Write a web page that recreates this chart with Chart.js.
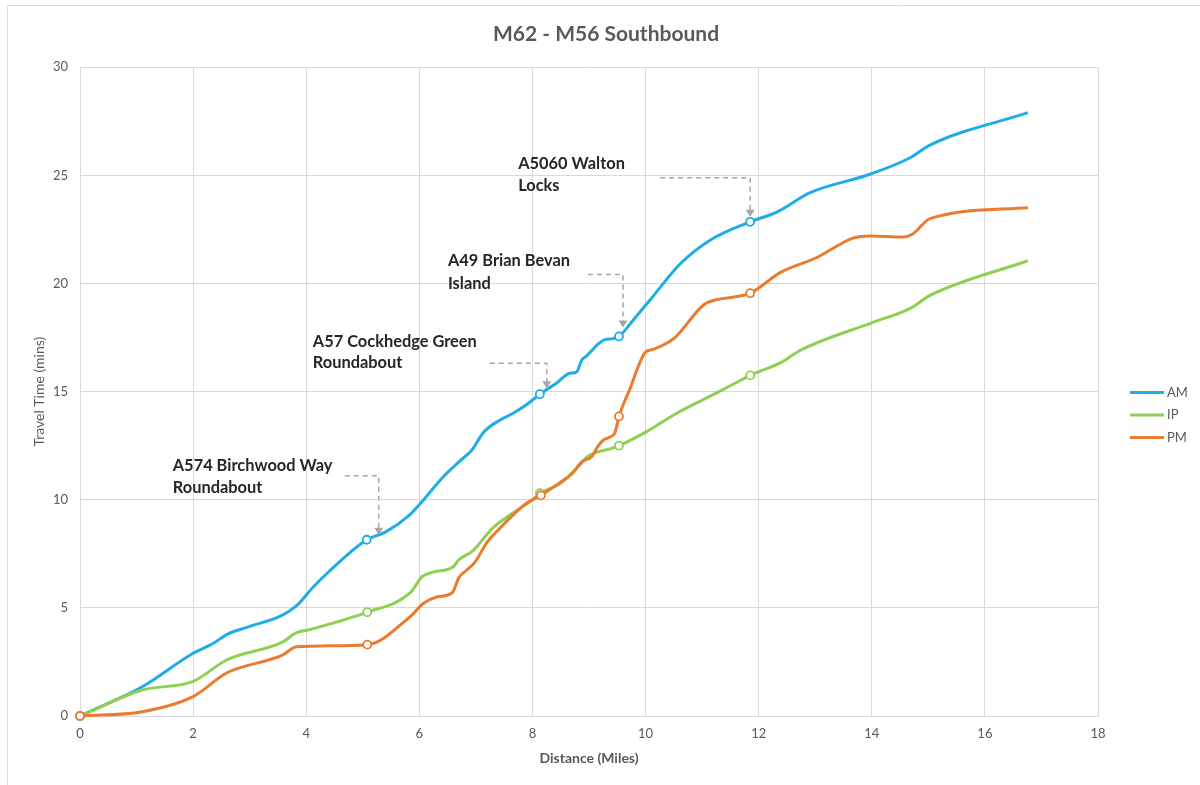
<!DOCTYPE html>
<html>
<head>
<meta charset="utf-8">
<title>M62 - M56 Southbound</title>
<script src="https://cdn.jsdelivr.net/npm/chart.js@4.4.1/dist/chart.umd.min.js"></script>
<style>
  html, body { margin: 0; padding: 0; background: #ffffff; }
  #wrap { width: 1200px; height: 785px; position: relative; }
  canvas { display: block; }
</style>
</head>
<body>
<div id="wrap"><canvas id="chart" width="1200" height="785"></canvas></div>
<script>
// ---- Journey data: cumulative travel time (mins) against distance (miles) ----
const seriesNames = ['AM', 'IP', 'PM'];

const amDist = [0, 1.1, 2.0, 2.35, 2.62, 2.95, 3.57, 3.83, 4.12, 4.37, 5.07, 5.4, 5.83, 6.01, 6.42, 6.72, 6.93, 7.13, 7.37, 7.66, 7.9, 8.13, 8.43, 8.66, 8.78, 8.87, 8.96, 9.05, 9.14, 9.28, 9.43, 9.53, 9.78, 10.13, 10.61, 11.14, 11.85, 12.32, 12.91, 13.97, 14.67, 15.03, 16.76];
const amTime = [0, 1.35, 2.9, 3.35, 3.8, 4.1, 4.65, 5.1, 5.95, 6.6, 8.15, 8.5, 9.3, 9.8, 11.05, 11.8, 12.3, 13.1, 13.6, 14.0, 14.4, 14.88, 15.4, 15.85, 15.9, 16.45, 16.65, 16.9, 17.15, 17.4, 17.45, 17.55, 18.3, 19.4, 20.9, 22.0, 22.85, 23.3, 24.2, 25.05, 25.8, 26.4, 27.9];

const ipDist = [0, 1.1, 2.0, 2.6, 3.57, 3.83, 4.07, 5.08, 5.84, 6.05, 6.24, 6.6, 6.69, 6.95, 7.3, 7.66, 8.0, 8.13, 8.49, 8.87, 8.96, 9.43, 9.53, 10.02, 10.55, 10.96, 11.67, 11.85, 12.4, 12.73, 14.02, 14.68, 15.03, 16.76];
const ipTime = [0, 1.2, 1.6, 2.6, 3.4, 3.85, 4.0, 4.8, 5.7, 6.45, 6.65, 6.9, 7.2, 7.65, 8.7, 9.4, 10.0, 10.3, 10.75, 11.7, 11.97, 12.4, 12.5, 13.15, 14.0, 14.55, 15.5, 15.75, 16.35, 16.9, 18.2, 18.85, 19.45, 21.05];

const pmDist = [0, 1.1, 2.0, 2.6, 3.57, 3.83, 5.08, 5.84, 6.07, 6.31, 6.58, 6.7, 6.84, 6.98, 7.19, 7.43, 7.66, 7.9, 8.15, 8.49, 8.7, 8.87, 9.05, 9.14, 9.25, 9.37, 9.46, 9.53, 9.72, 9.99, 10.13, 10.52, 10.96, 11.08, 11.85, 12.38, 13.03, 13.67, 13.97, 14.55, 14.73, 15.03, 16.76];
const pmTime = [0, 0.2, 0.9, 2.0, 2.8, 3.2, 3.3, 4.6, 5.2, 5.5, 5.7, 6.4, 6.75, 7.1, 8.0, 8.7, 9.3, 9.85, 10.2, 10.8, 11.2, 11.75, 12.0, 12.4, 12.75, 12.9, 13.1, 13.85, 15.1, 16.8, 16.95, 17.5, 18.85, 19.1, 19.55, 20.5, 21.2, 22.1, 22.2, 22.15, 22.3, 23.0, 23.5];

// Timing points marked with a hollow circle on each route profile (miles)
const amMarkers = [0, 5.07, 8.13, 9.53, 11.85];
const ipMarkers = [0, 5.08, 8.13, 9.53, 11.85];
const pmMarkers = [0, 5.08, 8.15, 9.53, 11.85];

// Axis ranges and tick spacing
const xTicks = [0, 18, 2];
const yTicks = [0, 30, 5];

// Junction call-outs and the AM timing point each one points at
const calloutText = [
  ['A574 Birchwood Way', 'Roundabout'],
  ['A57 Cockhedge Green', 'Roundabout'],
  ['A49 Brian Bevan', 'Island'],
  ['A5060 Walton', 'Locks']
];
const calloutMiles = [5.07, 8.13, 9.53, 11.85];
const calloutMins  = [8.15, 14.88, 17.55, 22.85];

// ---- Presentation ----
const FONT = 'Lato, "Open Sans", "DejaVu Sans", sans-serif';
const GREY_TEXT = '#595959';
const GRID = '#d9d9d9';
const colours = { AM: '#1fade6', IP: '#8fcf52', PM: '#ea7b2f' };

// Pixel offsets of each call-out relative to its target point
const calloutLayout = [
  { textDx: -194, line1Dy: -74, line2Dy: -52, legFromDx: -22, cornerDx: 12, cornerDy: -64, tipDy: -5 },
  { textDx: -227, line1Dy: -52, line2Dy: -31, legFromDx: -50, cornerDx: 7,  cornerDy: -31, tipDy: -6 },
  { textDx: -171, line1Dy: -76, line2Dy: -53, legFromDx: -31, cornerDx: 4,  cornerDy: -62, tipDy: -9 },
  { textDx: -232, line1Dy: -58, line2Dy: -36, legFromDx: -90, cornerDx: 0,  cornerDy: -44, tipDy: -5 }
];

function toPoints(xs, ys) {
  return xs.map((x, i) => ({ x: x, y: ys[i] }));
}

function markerRadius(markers) {
  return (ctx) => (ctx.raw && markers.includes(ctx.raw.x)) ? 4 : 0;
}

function makeSeries(name, xs, ys, markers, order) {
  return {
    label: name,
    data: toPoints(xs, ys),
    borderColor: colours[name],
    backgroundColor: colours[name],
    borderWidth: 3,
    cubicInterpolationMode: 'monotone',
    pointRadius: markerRadius(markers),
    pointHoverRadius: markerRadius(markers),
    pointBackgroundColor: '#ffffff',
    pointBorderColor: colours[name],
    pointBorderWidth: 1.8,
    clip: 8,
    yAxisID: 'y',
    order: order
  };
}

// White page with a thin frame around the chart
const framePlugin = {
  id: 'frame',
  beforeDraw(chart) {
    const ctx = chart.ctx;
    ctx.save();
    ctx.fillStyle = '#ffffff';
    ctx.fillRect(0, 0, chart.width, chart.height);
    ctx.strokeStyle = '#d9d9d9';
    ctx.lineWidth = 1;
    ctx.beginPath();
    ctx.moveTo(7.5, chart.height + 2);
    ctx.lineTo(7.5, 5.5);
    ctx.lineTo(chart.width + 2, 5.5);
    ctx.stroke();
    ctx.restore();
  }
};

// Dashed leader lines with arrow heads and bold junction names
const calloutPlugin = {
  id: 'callouts',
  afterDatasetsDraw(chart) {
    const ctx = chart.ctx;
    const xs = chart.scales.x, ys = chart.scales.y;
    ctx.save();
    calloutText.forEach((lines, i) => {
      const px = xs.getPixelForValue(calloutMiles[i]);
      const py = ys.getPixelForValue(calloutMins[i]);
      const L = calloutLayout[i];
      const cx = px + L.cornerDx, cy = py + L.cornerDy;
      const tipY = py + L.tipDy;
      // leader
      ctx.strokeStyle = '#a6a6a6';
      ctx.lineWidth = 1.5;
      ctx.setLineDash([5, 4]);
      ctx.beginPath();
      ctx.moveTo(px + L.legFromDx, cy);
      ctx.lineTo(cx, cy);
      ctx.lineTo(cx, tipY - 6);
      ctx.stroke();
      ctx.setLineDash([]);
      // arrow head
      ctx.fillStyle = '#a6a6a6';
      ctx.beginPath();
      ctx.moveTo(cx, tipY);
      ctx.lineTo(cx - 4.5, tipY - 7);
      ctx.lineTo(cx + 4.5, tipY - 7);
      ctx.closePath();
      ctx.fill();
      // label
      ctx.fillStyle = '#262626';
      ctx.font = 'bold 16.4px ' + FONT;
      ctx.textAlign = 'left';
      ctx.textBaseline = 'middle';
      ctx.fillText(lines[0], px + L.textDx, py + L.line1Dy);
      ctx.fillText(lines[1], px + L.textDx, py + L.line2Dy);
    });
    ctx.restore();
  }
};

// Series key to the right of the plot area
const keyPlugin = {
  id: 'seriesKey',
  afterDraw(chart) {
    const ctx = chart.ctx;
    const area = chart.chartArea;
    const x0 = area.right + 32;
    const step = 22.5;
    const midY = (area.top + area.bottom) / 2 + 23.5;
    const sets = chart.data.datasets;
    ctx.save();
    ctx.font = '13px ' + FONT;
    ctx.textBaseline = 'middle';
    ctx.textAlign = 'left';
    sets.forEach((ds, i) => {
      const y = midY + (i - (sets.length - 1) / 2) * step;
      ctx.strokeStyle = ds.borderColor;
      ctx.lineWidth = 3;
      ctx.beginPath();
      ctx.moveTo(x0, y);
      ctx.lineTo(x0 + 34, y);
      ctx.stroke();
      ctx.fillStyle = GREY_TEXT;
      ctx.fillText(ds.label, x0 + 37, y);
    });
    ctx.restore();
  }
};

const chart = new Chart(document.getElementById('chart'), {
  type: 'line',
  data: {
    datasets: [
      makeSeries(seriesNames[0], amDist, amTime, amMarkers, 2),
      makeSeries(seriesNames[1], ipDist, ipTime, ipMarkers, 1),
      makeSeries(seriesNames[2], pmDist, pmTime, pmMarkers, 0)
    ]
  },
  options: {
    responsive: false,
    animation: false,
    layout: { padding: { left: 12, right: 0, top: 0, bottom: 0 } },
    plugins: {
      legend: { display: false },
      tooltip: { enabled: false },
      title: {
        display: true,
        text: 'M62 - M56 Southbound',
        color: GREY_TEXT,
        font: { family: FONT, size: 21, weight: 'bold' },
        padding: { top: 22, bottom: 20 }
      }
    },
    scales: {
      x: {
        type: 'linear',
        min: xTicks[0], max: xTicks[1],
        ticks: { stepSize: xTicks[2], padding: 10, color: GREY_TEXT, font: { family: FONT, size: 13 } },
        grid: { color: GRID, drawTicks: false },
        border: { color: GRID },
        title: {
          display: true, text: 'Distance (Miles)', color: GREY_TEXT,
          font: { family: FONT, size: 14, weight: 'bold' },
          padding: { top: 0, bottom: 18 }
        },
        afterFit(scale) { scale.height = 69; }
      },
      y: {
        type: 'linear',
        position: 'left',
        min: yTicks[0], max: yTicks[1],
        ticks: { stepSize: yTicks[2], padding: 12, color: GREY_TEXT, font: { family: FONT, size: 13 } },
        grid: { color: GRID, drawTicks: false },
        border: { color: GRID },
        title: {
          display: true, text: 'Travel Time (mins)', color: GREY_TEXT,
          font: { family: FONT, size: 14 },
          padding: { top: 19.5, bottom: 0 }
        },
        afterFit(scale) { scale.width = 68; }
      },
      // empty band on the right that holds the series key
      keyBand: {
        type: 'linear',
        position: 'right',
        display: true,
        grid: { display: false, drawTicks: false },
        border: { display: false },
        ticks: { display: false },
        afterFit(scale) { scale.width = 102; }
      }
    }
  },
  plugins: [framePlugin, calloutPlugin, keyPlugin]
});
</script>
</body>
</html>
